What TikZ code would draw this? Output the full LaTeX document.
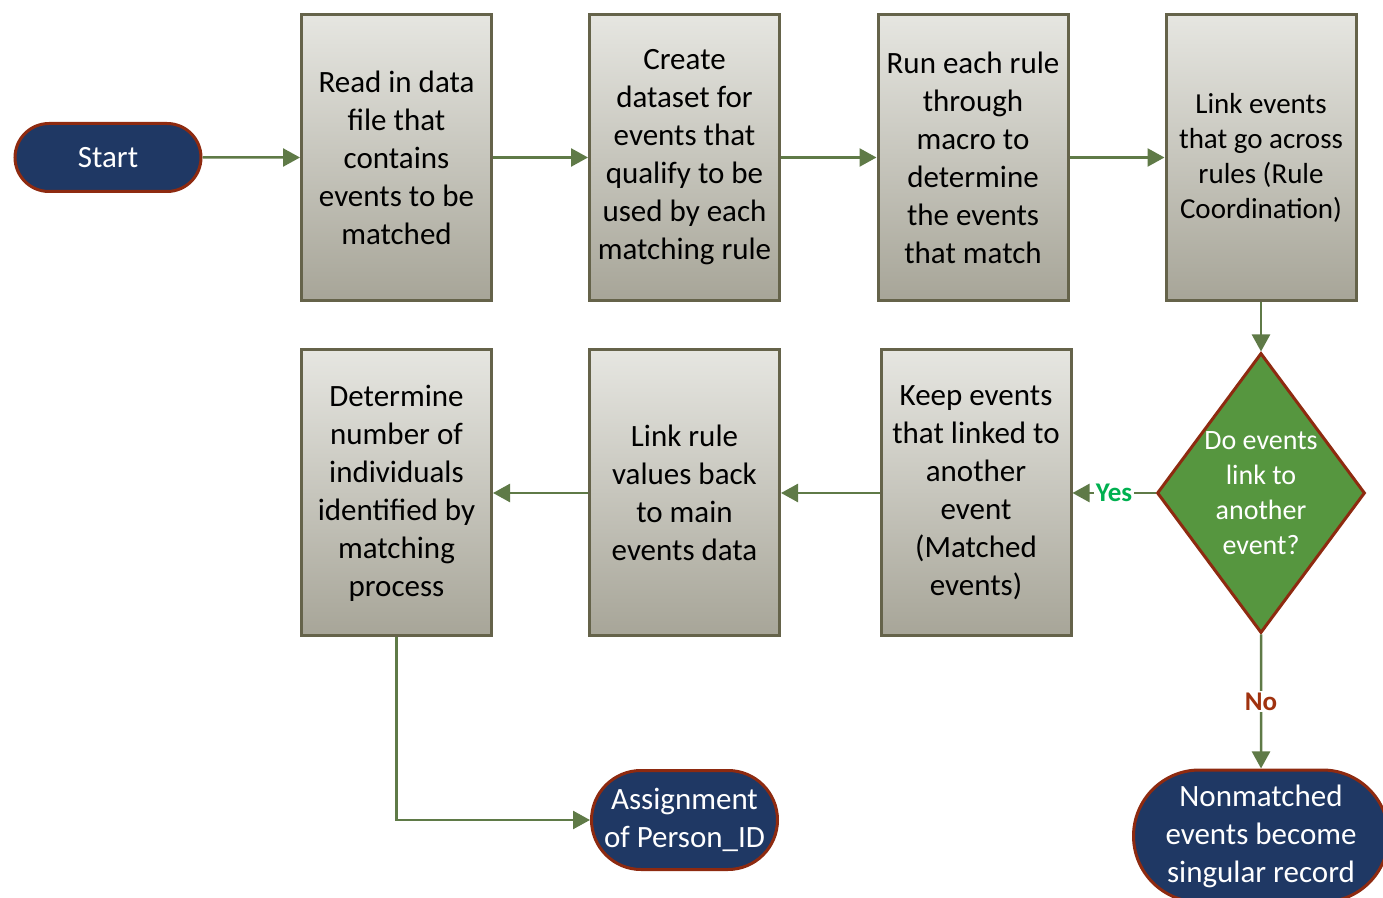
\documentclass[tikz,border=0pt]{standalone}
\usepackage{fontspec}
\setmainfont{Carlito}
\usetikzlibrary{shapes.geometric,shapes.misc,arrows.meta}

\definecolor{navy}{HTML}{1F3864}
\definecolor{rustred}{HTML}{8E2A10}
\definecolor{boxline}{HTML}{65634A}
\definecolor{boxtop}{HTML}{E6E6E1}
\definecolor{boxbot}{HTML}{A7A598}
\definecolor{flowline}{HTML}{5F7A47}
\definecolor{decgreen}{HTML}{56963F}
\definecolor{yesgreen}{HTML}{00B050}
\definecolor{nored}{HTML}{A0320F}

\begin{document}
\begin{tikzpicture}[x=0.5pt, y=-0.5pt,
    >={Triangle[length=8.5pt, width=9pt]},
    every node/.style={font=\fontsize{15.5}{19}\selectfont, align=center},
    procbox/.style={draw=boxline, line width=1.5pt, top color=boxtop, bottom color=boxbot,
        minimum width=95pt, minimum height=143pt, inner sep=1pt},
    terminal/.style={rounded rectangle, draw=rustred, line width=1.5pt, fill=navy,
        text=white, inner sep=1pt},
    flow/.style={->, draw=flowline, line width=1.25pt},
    answer/.style={font=\fontsize{13.5}{16}\selectfont\bfseries, fill=white, inner sep=1pt}]
    \useasboundingbox (0,0) rectangle (1383,898);

    % --- 1. top row ---
    \node[terminal, minimum width=95pt, minimum height=34pt] (start) at (108,157.5) {Start};
    \node[procbox] (read) at (396.5,157.5) {Read in data\\file that\\contains\\events to be\\matched};
    \node[procbox] (qualify) at (684.5,157.5) {Create\\dataset for\\events that\\qualify to be\\used by each\\matching rule};
    \node[procbox] (runrule) at (973,157.5) {Run each rule\\through\\macro to\\determine\\the events\\that match};
    \node[procbox, font=\fontsize{14.5}{17.5}\selectfont] (across) at (1261,157.5) {Link events\\that go across\\rules (Rule\\Coordination)};

    % --- 2. decision ---
    \node[diamond, draw=rustred, line width=1.5pt, fill=decgreen, inner sep=0pt,
        minimum width=104pt, minimum height=140pt,
        label={[text=white, font=\fontsize{14}{17.5}\selectfont]center:{Do events\\link to\\another\\event?}}]
        (dec) at (1261,493) {};

    % --- 3. bottom row ---
    \node[procbox] (keep) at (976,493) {Keep events\\that linked to\\another\\event\\(Matched\\events)};
    \node[procbox] (linkback) at (684.5,493) {Link rule\\values back\\to main\\events data};
    \node[procbox] (count) at (396.5,493) {Determine\\number of\\individuals\\identified by\\matching\\process};

    % end points
    \node[terminal, minimum width=95pt, minimum height=49.5pt] (assign) at (684.5,820) {Assignment\\of Person\_ID};
    \node[terminal, minimum width=129.5pt, minimum height=66pt] (single) at (1261,836) {Nonmatched\\events become\\singular record};

    % connectors
    \draw[flow] (start) -- (read);
    \draw[flow] (read) -- (qualify);
    \draw[flow] (qualify) -- (runrule);
    \draw[flow] (runrule) -- (across);
    \draw[flow] (across) -- (dec);
    \draw[flow] (dec) -- node[answer, text=yesgreen] {Yes} (keep);
    \draw[flow] (dec) -- node[answer, text=nored] {No} (single);
    \draw[flow] (keep) -- (linkback);
    \draw[flow] (linkback) -- (count);
    \draw[flow] (count) |- (assign);

\end{tikzpicture}
\end{document}
